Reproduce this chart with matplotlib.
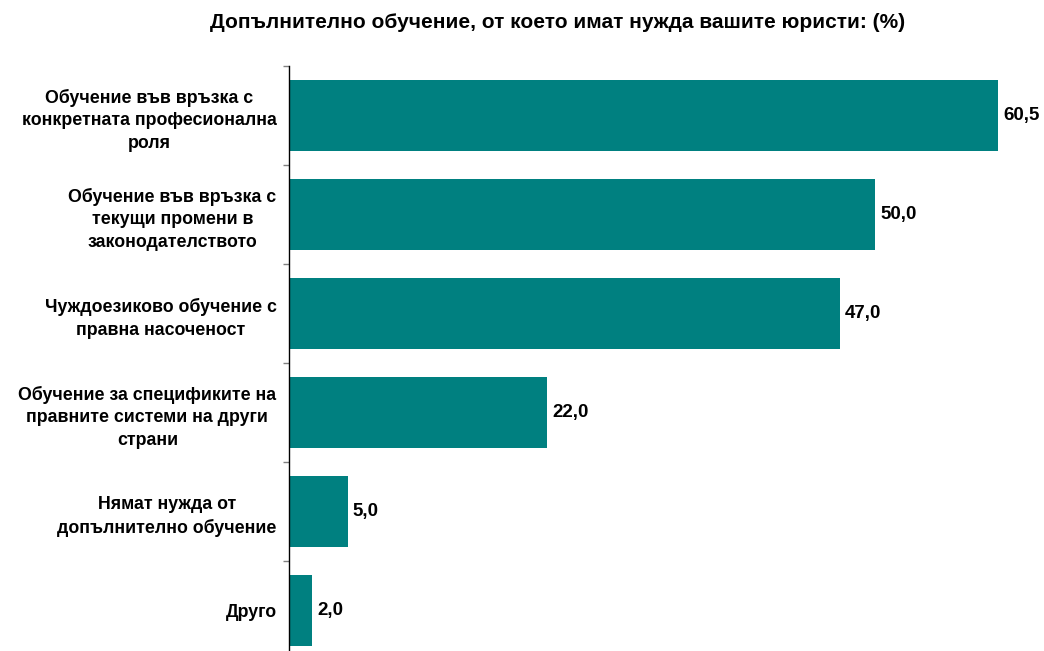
import matplotlib
matplotlib.use('Agg')
from matplotlib import pyplot as plt
import numpy as np

categories = [
    'Обучение във връзка с\nконкретната професионална\nроля',
    'Обучение във връзка с\nтекущи промени в\nзаконодателството',
    'Чуждоезиково обучение с\nправна насоченост',
    'Обучение за спецификите на\nправните системи на други\nстрани',
    'Нямат нужда от\nдопълнително обучение',
    'Друго',
]
values = [60.5, 50.0, 47.0, 22.0, 5.0, 2.0]
title = 'Допълнително обучение, от което имат нужда вашите юристи: (%)'

plt.rcParams['font.family'] = ['Liberation Sans', 'DejaVu Sans']
plt.rcParams['font.weight'] = 'bold'

fig = plt.figure(figsize=(10.44, 6.51), dpi=100)
ax = fig.add_axes([289 / 1044, 1 - 660 / 651, (1023 - 289) / 1044, (660 - 66) / 651])

pos = np.arange(len(values))
ax.barh(pos, values, height=0.72, color='#008080')
ax.set_ylim(len(values) - 0.5, -0.5)
ax.set_xlim(0, (1023 - 289) / 11.72)

for p, v in zip(pos, values):
    ax.text(v + 0.45, p, f'{v:.1f}'.replace('.', ','), va='center', ha='left',
            fontsize=13.5, fontweight='bold')

ax.set_yticks(pos)
ax.set_yticklabels(categories, fontsize=12.8, fontweight='bold',
                   multialignment='center', linespacing=1.45)
ax.tick_params(axis='y', which='major', length=0, pad=9)
ax.set_yticks(np.arange(len(values) + 1) - 0.5, minor=True)
ax.tick_params(axis='y', which='minor', length=4, color='#808080', width=1)

ax.set_xticks([])
for side in ['top', 'right', 'bottom']:
    ax.spines[side].set_visible(False)
ax.spines['left'].set_color('black')
ax.spines['left'].set_linewidth(1)

fig.text(558 / 1044, 1 - 22 / 651, title, ha='center', va='center',
         fontsize=15, fontweight='bold')

fig.savefig('out.png', dpi=100)
plt.close(fig)
